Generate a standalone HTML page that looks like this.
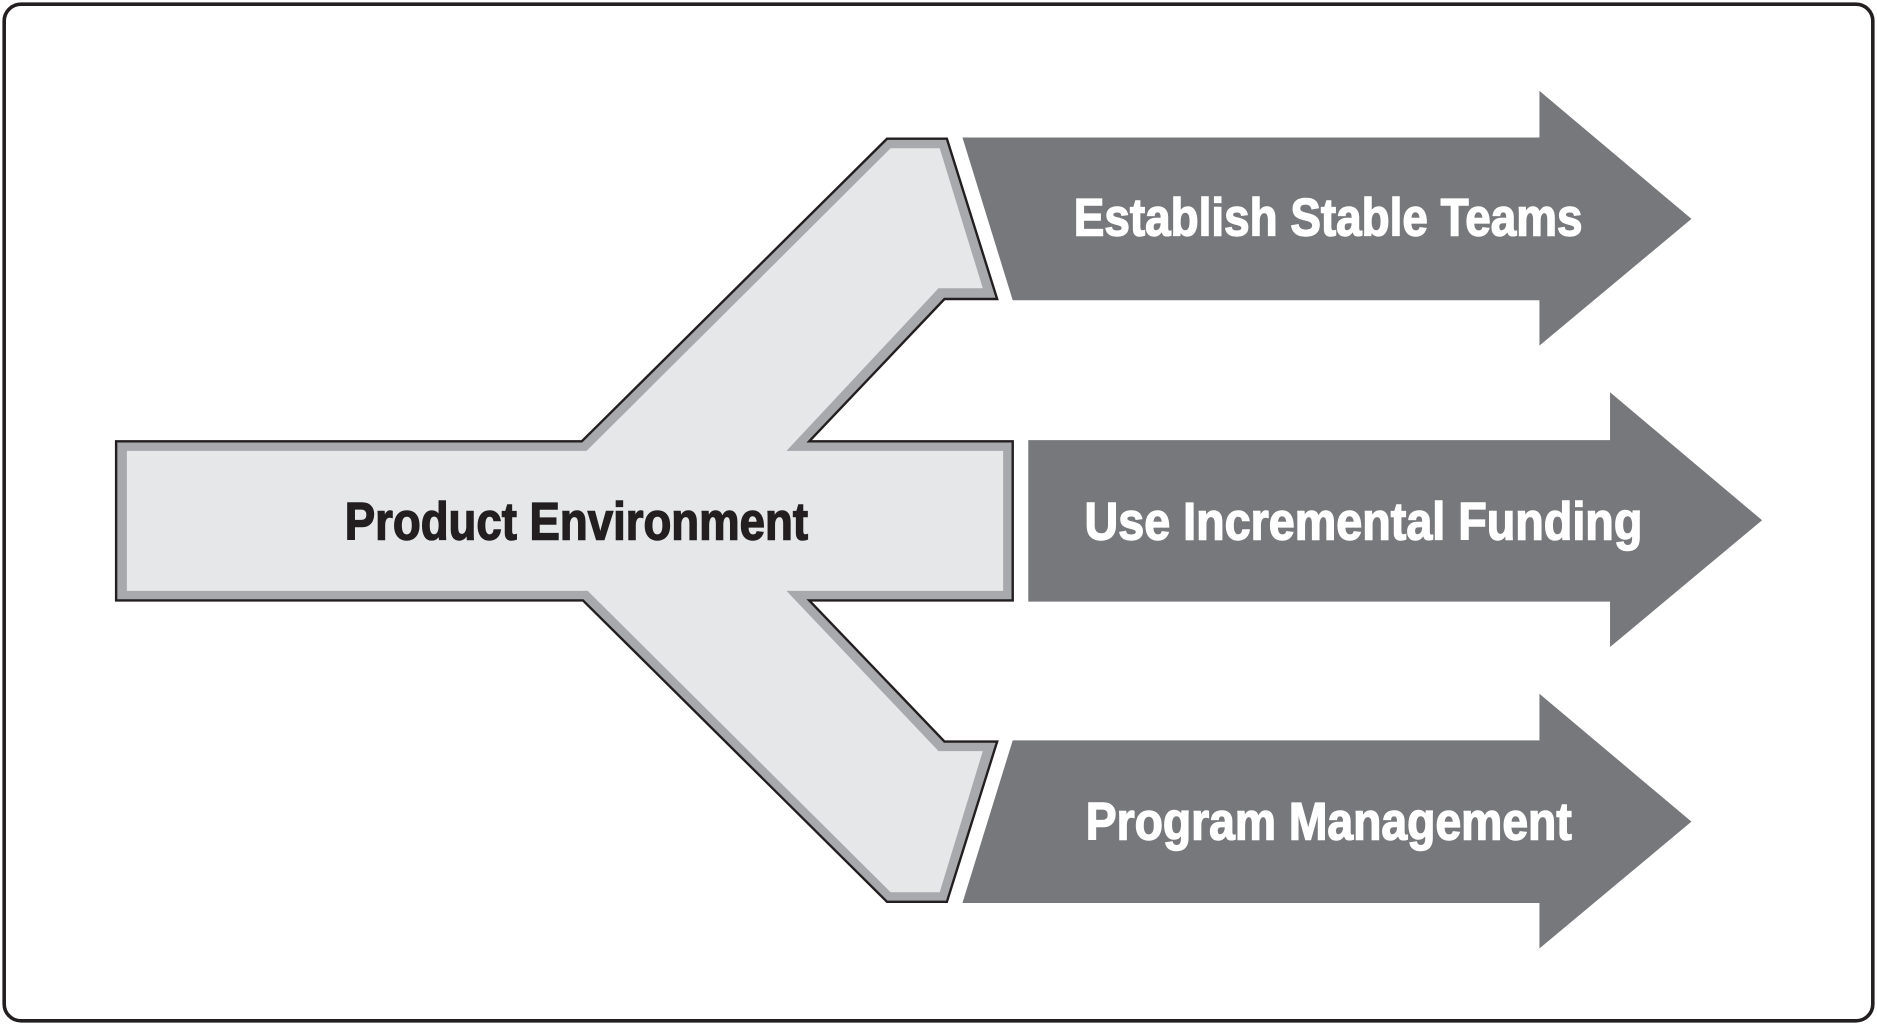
<!DOCTYPE html>
<html><head><meta charset="utf-8"><style>
html,body{margin:0;padding:0;background:#fff;}
svg{display:block;}
text{font-family:"Liberation Sans Narrow","Liberation Sans",sans-serif;font-weight:bold;font-size:44px;stroke-width:1.2px;}
</style></head><body>
<svg width="1877" height="1025" viewBox="0 0 1568 857" preserveAspectRatio="none">
<rect x="3.5" y="3.5" width="1561" height="850" rx="14" ry="14" fill="#fff" stroke="#231f20" stroke-width="3"/>
<polygon points="97,369 486,369 741,116 791,116 833,250 789,250 676,369 846,369 846,502 676,502 789,620 833,620 791,754 741,754 487,502 97,502" fill="#a7a9ac" stroke="#231f20" stroke-width="2"/>
<polygon points="106,377 490,377 744,124 785,124 821,241 784,241 657,377 838,377 838,494 657,494 784,628 821,628 785,746 744,746 491,494 106,494" fill="#e6e7e8"/>
<polygon points="804,115 1286,115 1286,76 1413,183 1286,289 1286,251 846,251" fill="#77787b"/>
<polygon points="859,368 1345,368 1345,328 1472,435 1345,541 1345,503 859,503" fill="#77787b"/>
<polygon points="846,619 1286,619 1286,580 1413,687 1286,793 1286,755 804,755" fill="#77787b"/>
<text x="288" y="451" textLength="387" lengthAdjust="spacingAndGlyphs" fill="#231f20" stroke="#231f20">Product Environment</text>
<text x="897" y="197" textLength="425" lengthAdjust="spacingAndGlyphs" fill="#fff" stroke="#fff">Establish Stable Teams</text>
<text x="906" y="451" textLength="466" lengthAdjust="spacingAndGlyphs" fill="#fff" stroke="#fff">Use Incremental Funding</text>
<text x="907" y="702" textLength="406" lengthAdjust="spacingAndGlyphs" fill="#fff" stroke="#fff">Program Management</text>
</svg>
</body></html>
